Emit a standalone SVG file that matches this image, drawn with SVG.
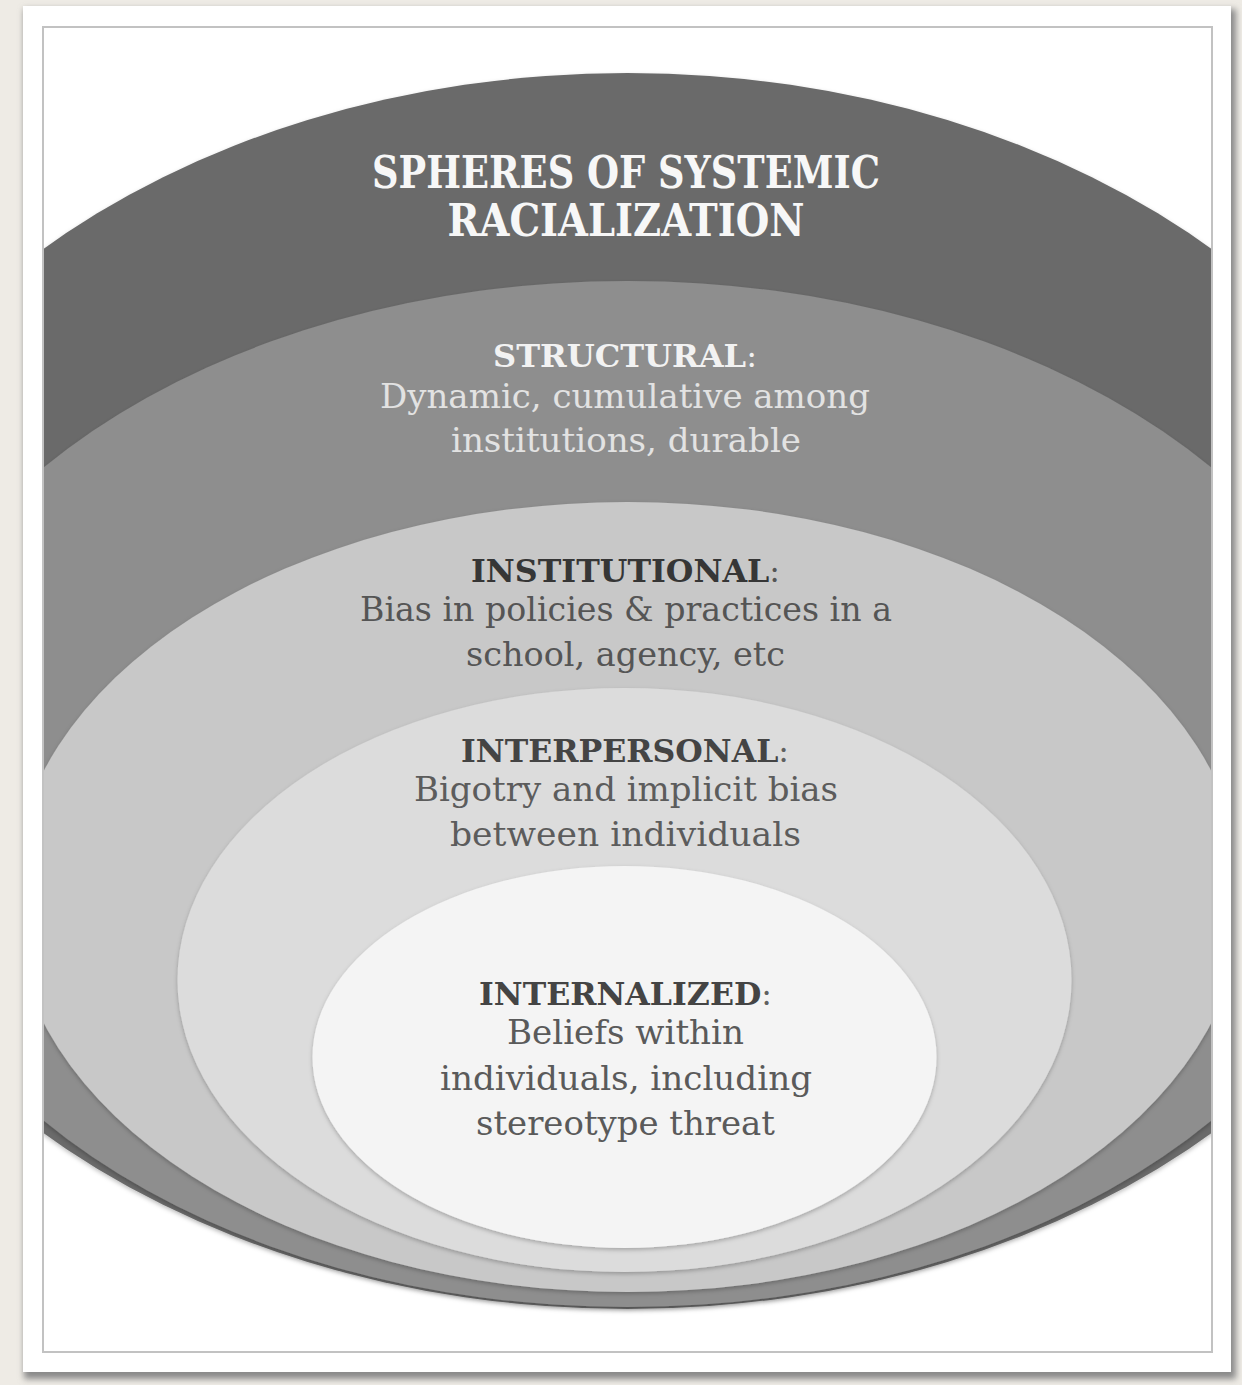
<svg xmlns="http://www.w3.org/2000/svg" width="1242" height="1385" viewBox="0 0 1242 1385">
  <defs>
    <filter id="cardShadow" x="-5%" y="-5%" width="110%" height="110%">
      <feGaussianBlur stdDeviation="3"/>
    </filter>
    <filter id="soft" x="-5%" y="-5%" width="110%" height="110%">
      <feDropShadow dx="0" dy="2" stdDeviation="2" flood-color="#000" flood-opacity="0.25"/>
    </filter>
    <clipPath id="frame">
      <rect x="44" y="28" width="1167" height="1323"/>
    </clipPath>
    <style>
      .t { font-family: "DejaVu Serif", "Liberation Serif", serif; text-anchor: middle; }
      .title { font-size: 44px; font-weight: bold; fill: #f7f7f7; }
      .head { font-size: 31px; font-weight: bold; }
      .body { font-size: 33px; }
      .colon { font-weight: normal; }
    </style>
  </defs>

  <!-- page and card -->
  <rect x="0" y="0" width="1242" height="1385" fill="#eeebe5"/>
  <rect x="24" y="9" width="1212" height="1370" fill="#8a8a8a" filter="url(#cardShadow)"/>
  <rect x="23" y="6" width="1208" height="1366" fill="#ffffff"/>

  <!-- nested spheres, clipped to the inner frame -->
  <g clip-path="url(#frame)">
    <rect x="44" y="28" width="1167" height="1323" fill="#ffffff"/>
    <g id="sphere-systemic">
      <ellipse cx="627.5" cy="691" rx="836" ry="618" fill="#6a6a6a" filter="url(#soft)"/>
    </g>
    <g id="sphere-structural">
      <ellipse cx="627.5" cy="794" rx="757" ry="513" fill="#8e8e8e" filter="url(#soft)"/>
    </g>
    <g id="sphere-institutional">
      <ellipse cx="627.5" cy="897" rx="616" ry="395" fill="#c8c8c8" filter="url(#soft)"/>
    </g>
    <g id="sphere-interpersonal">
      <ellipse cx="624.5" cy="980" rx="447" ry="292" fill="#dcdcdc" filter="url(#soft)"/>
    </g>
    <g id="sphere-internalized">
      <ellipse cx="624.5" cy="1057" rx="312" ry="191" fill="#f4f4f4" filter="url(#soft)"/>
    </g>
  </g>

  <!-- inner frame line -->
  <rect x="43" y="27" width="1169" height="1325" fill="none" stroke="#c2c2c2" stroke-width="2"/>

  <!-- labels -->
  <g id="label-systemic" class="t">
    <text class="title" x="626" y="188" textLength="508" lengthAdjust="spacingAndGlyphs">SPHERES OF SYSTEMIC</text>
    <text class="title" x="626" y="236" textLength="357" lengthAdjust="spacingAndGlyphs">RACIALIZATION</text>
  </g>
  <g id="label-structural" class="t">
    <text class="head" x="625" y="367" fill="#f2f2f2" textLength="264" lengthAdjust="spacingAndGlyphs">STRUCTURAL<tspan class="colon">:</tspan></text>
    <text class="body" x="625" y="408" fill="#e2e2e2" textLength="490" lengthAdjust="spacingAndGlyphs">Dynamic, cumulative among</text>
    <text class="body" x="626" y="452" fill="#e2e2e2" textLength="350" lengthAdjust="spacingAndGlyphs">institutions, durable</text>
  </g>
  <g id="label-institutional" class="t">
    <text class="head" x="625.5" y="582" fill="#363636" textLength="309" lengthAdjust="spacingAndGlyphs">INSTITUTIONAL<tspan class="colon" fill="#555">:</tspan></text>
    <text class="body" x="626" y="621" fill="#555555" textLength="532" lengthAdjust="spacingAndGlyphs">Bias in policies &amp; practices in a</text>
    <text class="body" x="625.5" y="666" fill="#555555" textLength="319" lengthAdjust="spacingAndGlyphs">school, agency, etc</text>
  </g>
  <g id="label-interpersonal" class="t">
    <text class="head" x="625" y="762" fill="#444444" textLength="328" lengthAdjust="spacingAndGlyphs">INTERPERSONAL<tspan class="colon" fill="#606060">:</tspan></text>
    <text class="body" x="626" y="801" fill="#5c5c5c" textLength="424" lengthAdjust="spacingAndGlyphs">Bigotry and implicit bias</text>
    <text class="body" x="625.5" y="846" fill="#5c5c5c" textLength="351" lengthAdjust="spacingAndGlyphs">between individuals</text>
  </g>
  <g id="label-internalized" class="t">
    <text class="head" x="625.5" y="1005" fill="#444444" textLength="293" lengthAdjust="spacingAndGlyphs">INTERNALIZED<tspan class="colon" fill="#606060">:</tspan></text>
    <text class="body" x="625.5" y="1044" fill="#5a5a5a" textLength="237" lengthAdjust="spacingAndGlyphs">Beliefs within</text>
    <text class="body" x="626" y="1090" fill="#5a5a5a" textLength="372" lengthAdjust="spacingAndGlyphs">individuals, including</text>
    <text class="body" x="625.5" y="1135" fill="#5a5a5a" textLength="299" lengthAdjust="spacingAndGlyphs">stereotype threat</text>
  </g>
</svg>
